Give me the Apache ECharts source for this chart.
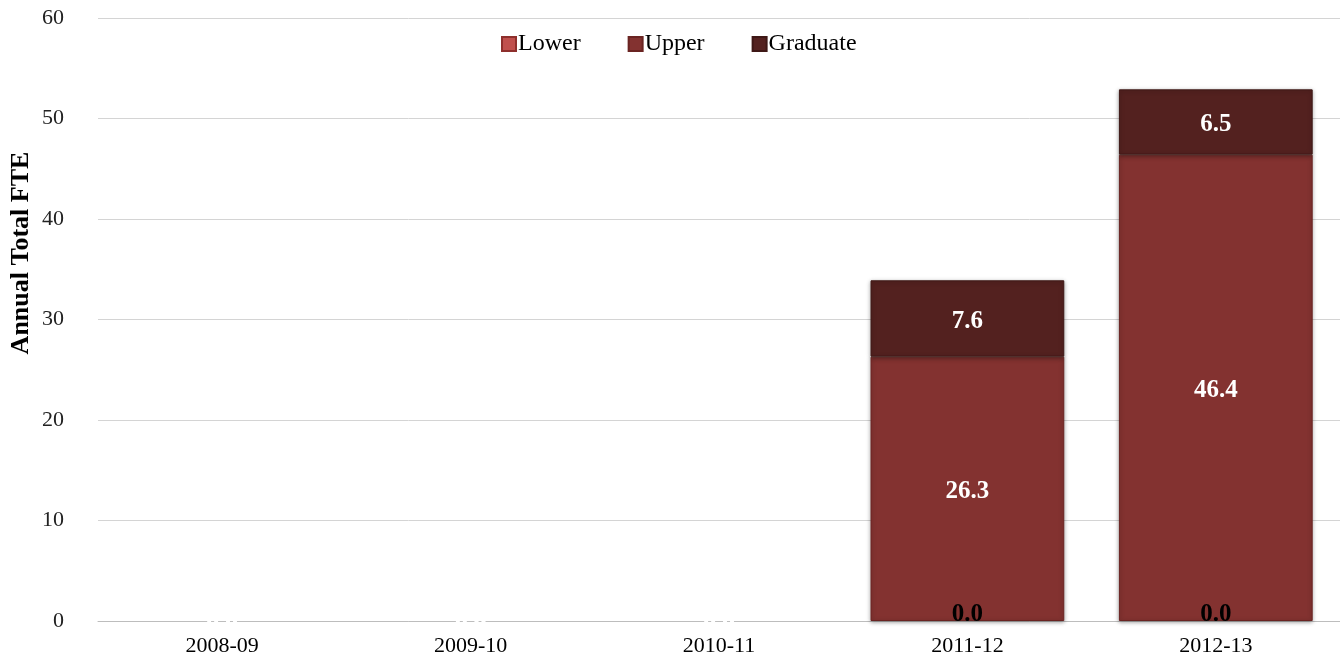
<!DOCTYPE html>
<html>
<head>
<meta charset="utf-8">
<script src="https://cdn.jsdelivr.net/npm/echarts@6/dist/echarts.min.js"></script>
<style>
  html, body { margin: 0; padding: 0; background: #fff; }
  #main { width: 1340px; height: 665px; }
</style>
</head>
<body>
<div id="main"></div>
<script>
// 学年
const categories = ['2008-09', '2009-10', '2010-11', '2011-12', '2012-13']
// FTE values
const lowerVals = [0, 0, 0, 0, 0]
const upperVals = [0, 0, 0, 26.3, 46.4]
const graduateVals = [0, 0, 0, 7.6, 6.5]
const yTicks = [0, 10, 20, 30, 40, 50, 60]

const serif = '"Liberation Serif", "DejaVu Serif", serif'
const fmt = p => p.value.toFixed(1)

// bars only exist where total > 0; label colour depends on that
const hasBar = categories.map((c, i) => lowerVals[i] + upperVals[i] + graduateVals[i] > 0)

function makeData(vals, labelColor) {
  return vals.map((v, i) => {
    let item = { value: v, label: { color: hasBar[i] ? labelColor : '#fff' } }
    if (v === 0) item.itemStyle = { borderWidth: 0, shadowBlur: 0, shadowOffsetY: 0 }
    return item
  })
}

const myChart = echarts.init(document.getElementById('main'))
const option = {
  backgroundColor: '#fff',
  animation: false,
  grid: { left: 98, right: 0, top: 18, bottom: 44 },
  legend: {
    top: 27,
    left: 496,
    itemWidth: 14,
    itemHeight: 14,
    itemGap: 47,
    icon: 'rect',
    textStyle: { fontFamily: serif, fontSize: 24, color: '#000', padding: [0, 0, 0, -3] },
    data: ['Lower', 'Upper', 'Graduate']
  },
  xAxis: {
    type: 'category',
    data: categories,
    axisLine: { show: true, lineStyle: { color: '#bdbdbd', width: 1 } },
    axisTick: { show: false },
    axisLabel: { fontFamily: serif, fontSize: 22, color: '#000', margin: 14 }
  },
  yAxis: {
    type: 'value',
    min: yTicks[0],
    max: yTicks[yTicks.length - 1],
    interval: 10,
    axisLine: { show: false },
    axisTick: { show: false },
    splitLine: { lineStyle: { color: '#d4d4d4', width: 1 } },
    axisLabel: { fontFamily: serif, fontSize: 22, color: '#222', margin: 34 }
  },
  graphic: [{
    type: 'text',
    x: 21,
    y: 253,
    rotation: Math.PI / 2,
    style: {
      text: 'Annual Total FTE',
      font: 'bold 26px ' + serif,
      fill: '#000',
      textAlign: 'center',
      textVerticalAlign: 'middle'
    }
  }],
  series: [
    {
      name: 'Lower', type: 'bar', stack: 'fte', barCategoryGap: '22%',
      itemStyle: { color: '#c0504d', borderColor: '#8e2f2c', borderWidth: 1 },
      label: { show: true, position: 'inside', formatter: fmt, fontFamily: serif, fontSize: 25, fontWeight: 'bold', offset: [0, -6] },
      data: makeData(lowerVals, '#000')
    },
    {
      name: 'Upper', type: 'bar', stack: 'fte',
      itemStyle: { color: '#833230', borderColor: '#6a2422', borderWidth: 1,
        shadowColor: 'rgba(0,0,0,0.35)', shadowBlur: 4, shadowOffsetY: 1 },
      label: { show: true, position: 'inside', formatter: fmt, fontFamily: serif, fontSize: 25, fontWeight: 'bold', offset: [0, 3] },
      data: makeData(upperVals, '#fff')
    },
    {
      name: 'Graduate', type: 'bar', stack: 'fte',
      itemStyle: { color: '#53211f', borderColor: '#3e1816', borderWidth: 1,
        shadowColor: 'rgba(0,0,0,0.35)', shadowBlur: 4, shadowOffsetY: 1 },
      label: { show: true, position: 'inside', formatter: fmt, fontFamily: serif, fontSize: 25, fontWeight: 'bold', offset: [0, 3] },
      data: makeData(graduateVals, '#fff')
    }
  ]
}
myChart.setOption(option, true)
</script>
</body>
</html>
